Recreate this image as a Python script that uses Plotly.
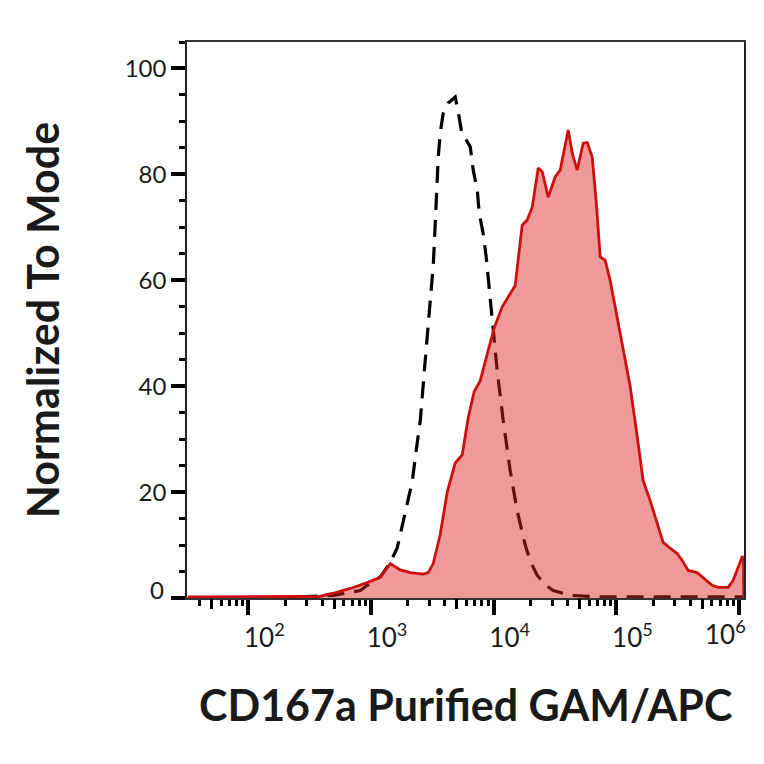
import numpy as np
import plotly.graph_objects as go

# ---- data (fluorescence intensity, % of mode) ----
stained_x = [32, 104, 266, 365, 492, 677, 931, 1189, 1435, 1731, 2088, 2667, 2927, 3214,
             3664, 4178, 4853, 5534, 6192, 6929, 7753, 8845, 10090, 11730, 13630, 14960,
             17060, 18750, 20600, 23050, 24850, 27800, 31700, 34830, 40470, 43640, 47890,
             53590, 57810, 63450, 68390, 73780, 80950, 88880, 97640, 107300, 117800,
             129400, 144800, 165100, 188300, 214800, 240400, 274100, 312700, 343500,
             384400, 455100, 509300, 602800, 674800, 813500, 893400, 982000, 1057000,
             1085000, 1092000]
stained_y = [0.2, 0.3, 0.3, 0.2, 0.9, 1.8, 2.9, 3.9, 6.5, 5.3, 4.8, 4.5, 4.8, 6.5,
             12, 20, 25.5, 27, 34, 39, 41, 46, 51, 55, 57.5, 59,
             70.4, 71.4, 73.8, 81.2, 80.5, 75.7, 79.5, 80.8, 88.4, 84, 80.8,
             85.9, 86, 83.3, 75, 64.4, 63.8, 60, 55, 50, 45,
             40, 32, 22.2, 18.4, 14, 10.5, 9.4, 8.4, 7.1,
             5.2, 4.8, 3.9, 2.4, 2.0, 2.0, 3.3, 5.8, 7.7,
             7.7, 0]

control_x = [266, 492, 818, 931, 1189, 1435, 1637, 1833, 1974, 2167, 2338, 2520, 2768,
             3040, 3214, 3275, 3337, 3403, 3467, 3532, 3664, 3880, 4258, 4853, 5136,
             5534, 5970, 6437, 6808, 7344, 7621, 8208, 8685, 9018, 9722, 10670, 11950,
             13630, 15520, 18060, 19830, 22590, 26290, 30550, 42000, 73780, 1099000]
control_y = [0.2, 0.5, 1.4, 2.4, 4, 6.7, 9.5, 14.3, 17.5, 22, 28, 33.5, 45,
             56, 62.8, 66.6, 71.4, 75.1, 79.5, 83.3, 87.8, 91.6, 93.5, 94.6, 91.8,
             87.4, 86.5, 85.2, 80.8, 77, 72.7, 68.8, 64.4, 60.6, 52, 43, 33.5,
             24, 16.5, 10, 7, 4.3, 2.5, 1.4, 0.5, 0.2, 0.2]

x_major = [100, 1000, 10000, 100000, 1000000]
x_major_text = ["10<sup>2</sup>", "10<sup>3</sup>", "10<sup>4</sup>", "10<sup>5</sup>", "10<sup>6</sup>"]
x_mid = [50, 500, 5000, 50000, 500000]
y_major = [0, 20, 40, 60, 80, 100]
y_major_text = ["0", "20", "40", "60", "80", "100"]

x_title = "CD167a Purified GAM/APC"
y_title = "Normalized To Mode"

FONT = "Lato, 'Open Sans', sans-serif"
XR = [1.5, 6.04]
YR = [0, 105]
TXT = "#1a1a1a"

fig = go.Figure()
fig.add_trace(go.Scatter(x=control_x, y=control_y, mode="lines",
                         line=dict(color="black", width=3.2, dash="17px,10px"),
                         showlegend=False, hoverinfo="skip"))
fig.add_trace(go.Scatter(x=stained_x, y=stained_y, mode="lines", fill="tozeroy",
                         fillcolor="rgba(222,32,32,0.46)",
                         line=dict(color="#cc1010", width=2.8),
                         showlegend=False, hoverinfo="skip"))
# invisible trace on overlay axis carrying the mid (x5) ticks
fig.add_trace(go.Scatter(x=[1e3], y=[0], xaxis="x2", mode="markers",
                         marker=dict(opacity=0), showlegend=False, hoverinfo="skip"))

# tick labels: all but the last x label and the first y label come from the axes;
# those two sit offset (as in the reference) and are drawn as annotations
x_ticktext_axis = x_major_text[:-1] + [""]
y_ticktext_axis = [""] + y_major_text[1:]

fig.update_layout(
    width=756, height=756,
    margin=dict(l=179, r=20, t=34, b=166),
    paper_bgcolor="white", plot_bgcolor="white",
    font=dict(family=FONT, color=TXT),
    xaxis=dict(type="log", range=XR, showgrid=False, zeroline=False, automargin=False,
               showline=True, linecolor="#333", linewidth=1.5, mirror=True,
               ticks="outside", ticklen=15, tickwidth=4, tickcolor="black",
               tickvals=x_major, ticktext=x_ticktext_axis,
               tickfont=dict(size=26, family=FONT, color=TXT),
               ticklabelshift=16, ticklabelstandoff=1,
               minor=dict(ticks="outside", ticklen=6, tickwidth=2.5, tickcolor="black",
                          dtick="D1", showgrid=False)),
    xaxis2=dict(type="log", range=XR, overlaying="x", anchor="y", side="bottom",
                showgrid=False, zeroline=False, showline=False, automargin=False,
                ticks="outside", ticklen=10, tickwidth=3, tickcolor="black",
                tickvals=x_mid, showticklabels=False),
    yaxis=dict(range=YR, showgrid=False, zeroline=False, automargin=False,
               showline=True, linecolor="#222", linewidth=1.5, mirror=True,
               ticks="outside", ticklen=14, tickwidth=4, tickcolor="black",
               tickvals=y_major, ticktext=y_ticktext_axis,
               tickfont=dict(size=24, family=FONT, color=TXT),
               minor=dict(ticks="outside", ticklen=6, tickwidth=2.5, tickcolor="black",
                          dtick=5, showgrid=False)),
    annotations=[
        dict(text=y_major_text[0], xref="paper", yref="y", x=0, y=y_major[0],
             xanchor="right", yanchor="middle",
             xshift=-21, yshift=9, showarrow=False,
             font=dict(size=24, family=FONT, color=TXT)),
        dict(text=x_major_text[-1], xref="x", yref="y", x=float(np.log10(x_major[-1])), y=YR[0],
             xanchor="center", yanchor="top", xshift=-14, yshift=-15, showarrow=False,
             font=dict(size=26, family=FONT, color=TXT)),
        dict(text="<b>" + x_title + "</b>", xref="paper", yref="paper", x=0.5, y=-0.192,
             xanchor="center", yanchor="middle", showarrow=False,
             font=dict(size=43, family=FONT, color=TXT)),
        dict(text="<b>" + y_title + "</b>", xref="paper", yref="paper", x=-0.26, y=0.5,
             xanchor="center", yanchor="middle", textangle=-90, showarrow=False,
             font=dict(size=43, family=FONT, color=TXT)),
    ],
)

fig.write_html("out.html")
